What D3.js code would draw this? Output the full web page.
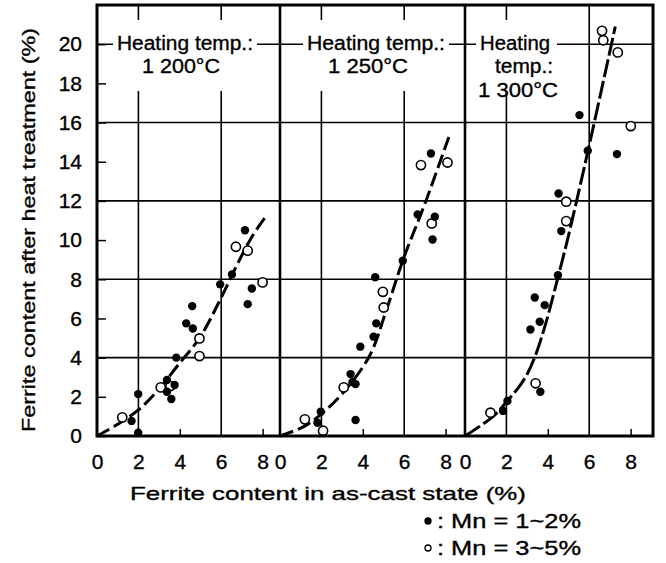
<!DOCTYPE html>
<html><head><meta charset="utf-8">
<script src="https://cdn.jsdelivr.net/npm/d3@7/dist/d3.min.js"></script>
<style>
html,body{margin:0;padding:0;background:#fff;}
text{font-family:"Liberation Sans",Arial,sans-serif;fill:#000;stroke:#000;stroke-width:0.35px;}
</style></head>
<body><svg id="chart" width="666" height="563"></svg>
<script>
// ---- data ----
const panelTitles = [["Heating temp.:", "1 200°C"], ["Heating temp.:", "1 250°C"], ["Heating", "temp.:", "1 300°C"]];
const xTickValues = [0, 2, 4, 6, 8];
const yTickValues = [0, 2, 4, 6, 8, 10, 12, 14, 16, 18, 20];
const gridX = [2, 6];
const gridY = [4, 8, 12, 16, 20];
// Mn = 1~2% (filled)
const filled1200 = [[1.99,2.14],[1.67,0.77],[1.99,0.17],[3.38,2.86],[3.38,2.26],[3.75,2.6],[3.59,1.89],[3.83,4.0],[4.31,5.75],[4.6,6.63],[4.63,5.49],[5.95,7.74],[6.52,8.25],[7.48,7.53],[7.28,6.73],[7.15,10.5]];
const filled1250 = [[5.93,8.95],[4.6,8.1],[4.65,5.75],[4.52,5.07],[3.88,4.56],[3.41,3.16],[3.65,2.65],[3.5,2.75],[1.97,1.24],[1.81,0.68],[3.65,0.82],[7.37,10.03],[7.29,14.42],[6.65,11.31],[7.48,11.19]];
const filled1300 = [[4.49,8.21],[3.37,7.07],[3.85,6.68],[3.61,5.83],[3.16,5.44],[3.64,2.26],[2.05,1.79],[1.84,1.28],[5.53,16.38],[5.93,14.56],[7.34,14.39],[4.52,12.38],[4.65,10.46]];
// Mn = 3~5% (open)
const open1200 = [[1.22,0.95],[3.08,2.48],[3.55,2.55],[4.95,4.98],[4.95,4.08],[6.71,9.66],[7.28,9.46],[8.0,7.84]];
const open1250 = [[4.97,7.36],[5.01,6.56],[3.08,2.48],[1.2,0.85],[2.08,0.27],[6.81,13.83],[8.09,13.96],[7.33,10.85]];
const open1300 = [[1.23,1.19],[3.41,2.69],[6.62,20.68],[6.68,20.2],[7.38,19.58],[8.01,15.82],[4.89,11.96],[4.89,10.97]];
// fitted curves
const curve1200 = [[0,0],[1,0.6],[2,1.33],[3,2.4],[3.9,3.6],[4.95,5.0],[5.9,6.85],[6.7,8.6],[7.5,10.2],[8.15,11.2]];
const curve1250 = [[0,0],[1.15,0.48],[1.92,1.05],[3.04,2.2],[4.33,4.1],[5.13,6.4],[5.93,8.95],[7.05,12.0],[8.17,15.3]];
const curve1300 = [[0,0],[1.36,1.0],[2.05,1.8],[2.6,2.5],[3.0,3.15],[3.45,4.25],[3.93,5.85],[4.49,8.1],[4.97,10.1],[5.93,14.5],[7.26,20.9]];
const filledSets = [filled1200, filled1250, filled1300];
const openSets = [open1200, open1250, open1300];
const curves = [curve1200, curve1250, curve1300];
const legendLabels = [": Mn = 1~2%", ": Mn = 3~5%"];
const xTitle = "Ferrite content in as-cast state  (%)";
const yTitle = "Ferrite content after heat treatment  (%)";

// ---- layout ----
const svg = d3.select("#chart");
const plotTop = 5, plotBottom = 436;
const panelL = [97, 280, 465], panelR = [280, 465, 653];
const unit = 20.7;
const y = d3.scaleLinear().domain([0, 22]).range([plotBottom, plotTop]);
const titlePos = [
  [[185, 50], [181, 73]],
  [[376, 50], [368, 73]],
  [[515, 50], [524, 73], [518, 97]]
];
const titleLen = [[136, 78], [138, 80], [70, 58, 80]];
const maskLines = [2, 2, 2];

panelL.forEach((L, i) => {
  const R = panelR[i];
  const x = d3.scaleLinear().domain([0, (R - L) / unit]).range([L, R]);
  const g = svg.append("g");
  // grid
  g.selectAll(".gx").data(gridX).join("line")
    .attr("x1", d => x(d)).attr("x2", d => x(d)).attr("y1", plotTop).attr("y2", plotBottom)
    .attr("stroke", "#000").attr("stroke-width", 1.6);
  g.selectAll(".gy").data(gridY).join("line")
    .attr("x1", L).attr("x2", R).attr("y1", d => y(d)).attr("y2", d => y(d))
    .attr("stroke", "#000").attr("stroke-width", 1.6);
  // x axis
  const ax = g.append("g").attr("transform", `translate(0,${plotBottom})`)
    .call(d3.axisBottom(x).tickValues(xTickValues).tickSizeInner(-7).tickSizeOuter(0).tickPadding(18));
  ax.select(".domain").remove();
  ax.selectAll(".tick line").filter(d => d === 0 || gridX.includes(d)).remove();
  ax.selectAll(".tick line").attr("stroke-width", 1.5);
  ax.selectAll("text").attr("font-size", 21).attr("font-family", "Liberation Sans, Arial, sans-serif");
  // panel titles with white backing
  const tg = g.append("g");
  const texts = panelTitles[i].map((t, k) => tg.append("text")
    .attr("x", titlePos[i][k][0]).attr("y", titlePos[i][k][1])
    .attr("text-anchor", "middle").attr("font-size", 20)
    .attr("textLength", titleLen[i][k]).attr("lengthAdjust", "spacingAndGlyphs").text(t));
  let bx0 = Infinity, by0 = Infinity, bx1 = -Infinity, by1 = -Infinity;
  texts.slice(0, maskLines[i]).forEach(t => {
    const b = t.node().getBBox();
    bx0 = Math.min(bx0, b.x); by0 = Math.min(by0, b.y);
    bx1 = Math.max(bx1, b.x + b.width); by1 = Math.max(by1, b.y + b.height);
  });
  tg.insert("rect", "text").attr("x", bx0 - 4).attr("y", by0 - 12)
    .attr("width", bx1 - bx0 + 8).attr("height", by1 - by0 + 26).attr("fill", "#fff");
  // curve
  g.append("path").datum(curves[i])
    .attr("d", d3.line().x(d => x(d[0])).y(d => y(d[1])).curve(d3.curveCatmullRom))
    .attr("fill", "none").attr("stroke", "#000").attr("stroke-width", 3)
    .attr("stroke-dasharray", i === 2 ? "18,4" : "14,5");
  // markers
  g.selectAll(".op").data(openSets[i]).join("circle")
    .attr("cx", d => x(d[0])).attr("cy", d => y(d[1])).attr("r", 4.6)
    .attr("fill", "#fff").attr("stroke", "#000").attr("stroke-width", 1.6);
  g.selectAll(".fp").data(filledSets[i]).join("circle")
    .attr("cx", d => x(d[0])).attr("cy", d => y(d[1])).attr("r", 4.2)
    .attr("fill", "#000");
});

// y axis
const ay = svg.append("g").attr("transform", `translate(${panelL[0]},0)`)
  .call(d3.axisLeft(y).tickValues(yTickValues).tickSizeInner(-9).tickSizeOuter(0).tickPadding(15));
ay.select(".domain").remove();
ay.selectAll(".tick line").attr("stroke-width", 1.5);
ay.selectAll("text").attr("font-size", 21).attr("font-family", "Liberation Sans, Arial, sans-serif");

// frame and dividers
svg.append("rect").attr("x", panelL[0]).attr("y", plotTop).attr("width", panelR[2] - panelL[0]).attr("height", plotBottom - plotTop)
  .attr("fill", "none").attr("stroke", "#000").attr("stroke-width", 3);
svg.selectAll(".div").data(panelL.slice(1)).join("line")
  .attr("x1", d => d).attr("x2", d => d).attr("y1", plotTop).attr("y2", plotBottom)
  .attr("stroke", "#000").attr("stroke-width", 2.6);

// axis titles
svg.append("text").attr("x", 328).attr("y", 500).attr("text-anchor", "middle")
  .attr("font-size", 19).attr("textLength", 396).attr("lengthAdjust", "spacingAndGlyphs").text(xTitle);
svg.append("text").attr("transform", "translate(35,230) rotate(-90)").attr("text-anchor", "middle")
  .attr("font-size", 19).attr("textLength", 404).attr("lengthAdjust", "spacingAndGlyphs").text(yTitle);

// legend
const lg = svg.append("g");
legendLabels.forEach((t, k) => {
  const yy = 521 + k * 27;
  lg.append("circle").attr("cx", 428).attr("cy", yy).attr("r", 3)
    .attr("fill", k === 0 ? "#000" : "#fff").attr("stroke", "#000").attr("stroke-width", 1.3);
  lg.append("text").attr("x", 437).attr("y", yy + 7).attr("font-size", 20)
    .attr("textLength", 144).attr("lengthAdjust", "spacingAndGlyphs").text(t);
});
</script></body></html>
